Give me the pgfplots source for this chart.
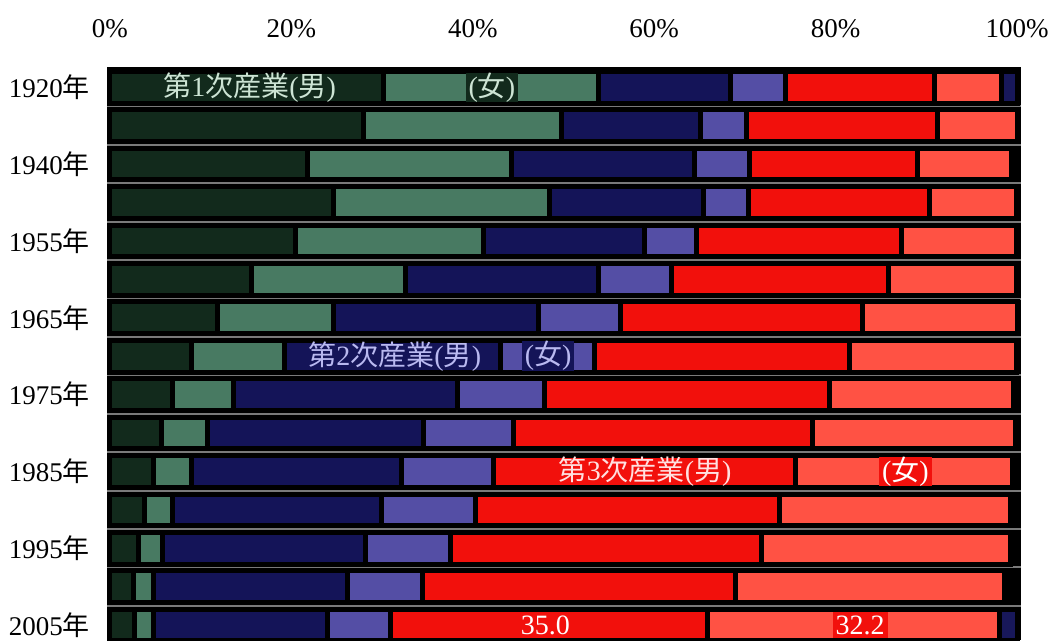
\documentclass[border=0pt]{standalone}
\usepackage{pgfplots}
\pgfplotsset{compat=1.18}
\usepackage{pgfplotstable}
\usepackage{fontspec}
\setmainfont{Liberation Serif}
\newfontfamily\cjk{Noto Sans CJK JP}
\definecolor{cpm}{RGB}{18,42,28}
\definecolor{cpf}{RGB}{72,122,98}
\definecolor{csm}{RGB}{20,20,88}
\definecolor{csf}{RGB}{84,78,165}
\definecolor{ctm}{RGB}{242,16,12}
\definecolor{ctf}{RGB}{255,82,68}
\definecolor{cu}{RGB}{24,24,90}
\definecolor{lblg}{RGB}{205,228,212}
\definecolor{lav}{RGB}{185,185,240}
\newcommand{\fsz}{\fontsize{13.5}{15}\selectfont}
\newcommand{\fsl}{\fontsize{14}{16}\selectfont}
\pgfplotstableread{
y pm pf sm sf tm tf u
0 30.2 23.7 14.5 6.1 16.4 7.4 1.7
1 27.9 21.9 15.3 5.1 21.0 8.8 0
2 21.8 22.5 20.1 6.1 18.5 10.4 0
3 24.6 23.9 16.9 5.0 19.9 9.6 0
4 20.5 20.7 17.7 5.8 22.6 12.6 0
5 15.6 17.0 21.3 8.0 23.9 14.1 0
6 11.9 12.7 22.6 9.1 26.7 17.0 0
7 9.0 10.2 23.9 10.3 28.1 18.4 0
8 6.9 6.7 24.7 9.6 31.4 20.3 0
9 5.7 5.1 23.8 9.9 32.9 22.4 0
10 4.8 4.2 23.1 10.2 33.3 23.9 0
11 3.8 3.1 23.0 10.4 33.5 25.5 0
12 3.1 2.7 22.4 9.3 34.3 27.5 0
13 2.6 2.2 21.4 8.2 34.6 29.6 0
14 2.7 2.1 19.2 6.9 35.0 32.2 1.9
}\data
\begin{document}
\begin{tikzpicture}[box/.style={inner xsep=1.5pt, inner ysep=0pt, minimum height=13.2pt, font=\fsl}]
\begin{axis}[
  scale only axis, width=457pt, height=286.4pt,
  xbar stacked, bar width=15.85pt,
  xmin=-0.33, xmax=100.44,
  y dir=reverse, ymin=-0.52, ymax=14.39,
  axis background/.style={fill=black},
  axis line style={draw=none},
  xtick={0,20,40,60,80,100}, xticklabel pos=upper,
  xticklabels={0\%,20\%,40\%,60\%,80\%,100\%},
  xticklabel style={yshift=11pt},
  ytick={0,2,4,6,8,10,12,14},
  yticklabels={1920{\cjk 年},1940{\cjk 年},1955{\cjk 年},1965{\cjk 年},1975{\cjk 年},1985{\cjk 年},1995{\cjk 年},2005{\cjk 年}},
  yticklabel style={xshift=-5pt},
  minor ytick={0.5,1.5,...,13.5},
  yminorgrids, minor grid style={draw=black!52, line width=1pt},
  major tick length=0pt, minor tick length=0pt,
  tick label style={font=\fsz},
  every axis plot/.append style={draw=black, line width=2.5pt},
]
\addplot[fill=cpm] table[x=pm,y=y]{\data};
\addplot[fill=cpf] table[x=pf,y=y]{\data};
\addplot[fill=csm] table[x=sm,y=y]{\data};
\addplot[fill=csf] table[x=sf,y=y]{\data};
\addplot[fill=ctm] table[x=tm,y=y]{\data};
\addplot[fill=ctf] table[x=tf,y=y]{\data};
\addplot[fill=cu] table[x=u,y=y]{\data};
\coordinate (l1) at (axis cs:15.4,0);
\coordinate (l2) at (axis cs:42.1,0);
\coordinate (l3) at (axis cs:31.4,7);
\coordinate (l4) at (axis cs:48.3,7);
\coordinate (l5) at (axis cs:59.0,10);
\coordinate (l6) at (axis cs:87.7,10);
\coordinate (l7) at (axis cs:48.0,14);
\coordinate (l8) at (axis cs:82.7,14);
\end{axis}
\node[text=lblg, font=\fsl] at (l1) {{\cjk 第}1{\cjk 次産業}({\cjk 男})};
\node[box, fill=cpm, text=lblg] at (l2) {({\cjk 女})};
\node[text=lav, font=\fsl] at (l3) {{\cjk 第}2{\cjk 次産業}({\cjk 男})};
\node[box, fill=csm, text=lav] at (l4) {({\cjk 女})};
\node[text=white!88!red, font=\fsl] at (l5) {{\cjk 第}3{\cjk 次産業}({\cjk 男})};
\node[box, fill=ctm, text=white] at (l6) {({\cjk 女})};
\node[text=white, font=\fsl] at (l7) {35.0};
\node[box, fill=ctm, text=white] at (l8) {32.2};
\pgfresetboundingbox
\path[use as bounding box] ([xshift=-53.5pt,yshift=33.65pt]current axis.north west) rectangle ([xshift=15.5pt]current axis.south east);
\end{tikzpicture}
\end{document}
